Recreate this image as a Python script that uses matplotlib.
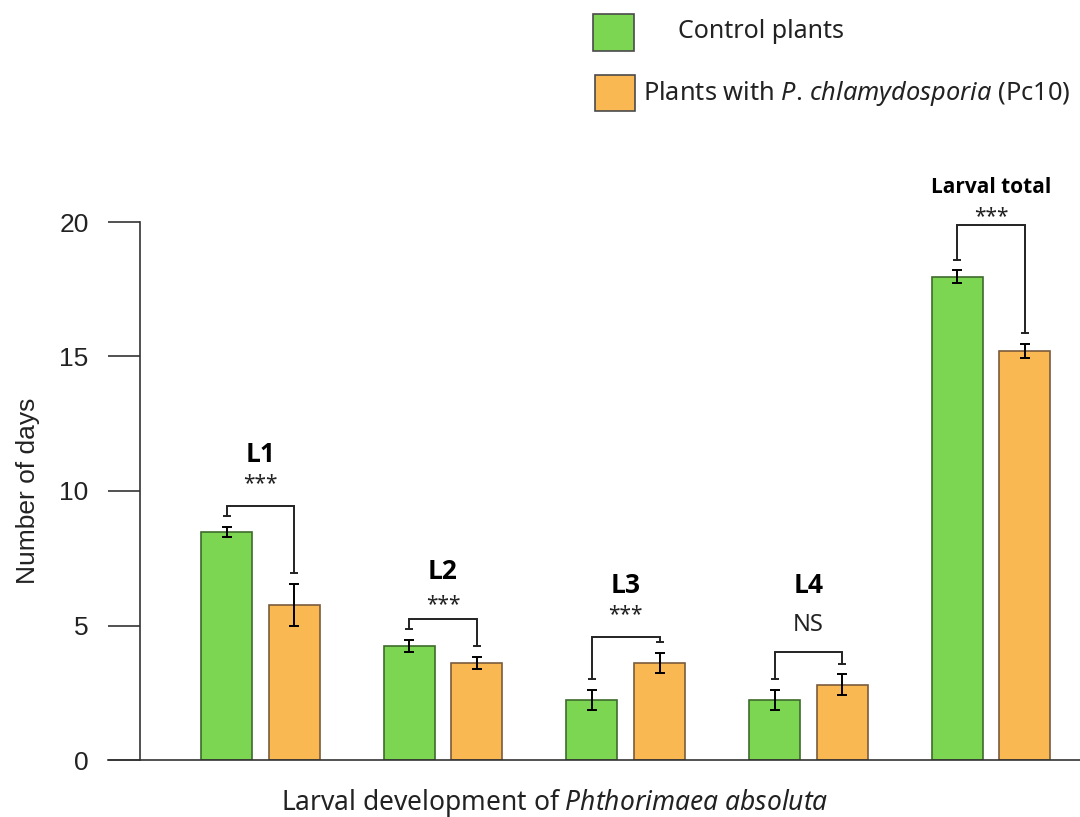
import numpy as np
import matplotlib.pyplot as plt
from matplotlib.patches import Rectangle

plt.rcParams['font.family'] = ['Noto Sans', 'DejaVu Sans']
plt.rcParams['mathtext.fontset'] = 'custom'
plt.rcParams['mathtext.rm'] = 'Noto Sans'
plt.rcParams['mathtext.it'] = 'Noto Sans:italic'

# larval stages and mean duration (days)
stages = ['L1', 'L2', 'L3', 'L4', 'Larval total']
control = [8.48, 4.24, 2.23, 2.23, 17.96]
control_err = [0.20, 0.22, 0.37, 0.37, 0.24]
treated = [5.76, 3.61, 3.61, 2.79, 15.20]
treated_err = [0.78, 0.22, 0.37, 0.39, 0.26]
signif = ['***', '***', '***', 'NS', '***']

# heights of brackets and labels above each pair
bracket_y = [9.44, 5.24, 4.57, 4.01, 19.89]
stage_label_y = [11.34, 6.99, 6.50, 6.50, 21.30]
signif_y = [10.26, 5.76, 5.39, 5.02, 20.19]

green = '#7dd652'
orange = '#f9b851'
dark = '#222222'
bold_font = ['Open Sans', 'DejaVu Sans']

fig = plt.figure(figsize=(10.8, 8.17), dpi=100)
ax = fig.add_axes([140 / 1080, 57 / 817, 940 / 1080, 538 / 817])

x = np.arange(len(stages))
off = 0.185
w = 0.28
ax.bar(x - off, control, w, color=green, edgecolor='#3d6b2c', linewidth=1.2, zorder=2)
ax.bar(x + off, treated, w, color=orange, edgecolor='#7a5b3c', linewidth=1.2, zorder=2)
ax.errorbar(x - off, control, yerr=control_err, fmt='none', ecolor='black',
            elinewidth=1.4, capsize=3.5, capthick=1.4, zorder=3)
ax.errorbar(x + off, treated, yerr=treated_err, fmt='none', ecolor='black',
            elinewidth=1.4, capsize=3.5, capthick=1.4, zorder=3)

# comparison brackets
gap = 0.4
for i in range(len(stages)):
    xl, xr = x[i] - off, x[i] + off
    yl = control[i] + control_err[i] + gap
    yr = treated[i] + treated_err[i] + gap
    top = bracket_y[i]
    ax.plot([xl, xl, xr, xr], [yl, top, top, yr], color=dark, lw=1.4,
            solid_joinstyle='miter', zorder=3)
    ax.plot([xl, xr], [yl, yr], ls='none', marker='_', ms=6, mew=1.4,
            color=dark, zorder=3)
    fs = 15 if i == 4 else 19
    ax.text(x[i], stage_label_y[i], stages[i], ha='center', va='center',
            fontsize=fs, fontweight='bold', family=bold_font, color='black')
    ax.text(x[i], signif_y[i], signif[i], ha='center', va='center',
            fontsize=17 if signif[i] == 'NS' else 15, color=dark)

ax.set_xlim(-0.659, 4.487)
ax.set_ylim(0, 20)
ax.set_xticks([])
ax.set_yticks([0, 5, 10, 15, 20])
ax.tick_params(axis='y', length=23, width=1.2, color='#333333', pad=14,
               labelsize=19, labelcolor='#222222')
for lab in ax.get_yticklabels():
    lab.set_family(['Liberation Sans', 'DejaVu Sans'])
for s in ['top', 'right']:
    ax.spines[s].set_visible(False)
for s in ['left', 'bottom']:
    ax.spines[s].set_linewidth(1.2)
    ax.spines[s].set_color('#333333')

# baseline continues under the 0 label
ax.plot([-0.659 - 32 / 182.6, -0.659], [0, 0], color='#333333', lw=1.2,
        clip_on=False, zorder=1)

ax.set_ylabel('Number of days', fontsize=19, family=['Liberation Sans', 'DejaVu Sans'],
              labelpad=14, color='#222222')

H = 817
fig.text(555 / 1080, 1 - 803 / H, r'Larval development of $Phthorimaea$ $absoluta$',
         fontsize=19, ha='center', va='center', color='#222222')

# legend
fig.add_artist(Rectangle((593 / 1080, 1 - 51 / H), 41 / 1080, 37 / H,
                         transform=fig.transFigure, facecolor=green,
                         edgecolor='#4a4a4a', lw=1.2))
fig.add_artist(Rectangle((595 / 1080, 1 - 111 / H), 40 / 1080, 36 / H,
                         transform=fig.transFigure, facecolor=orange,
                         edgecolor='#4a4a4a', lw=1.2))
fig.text(678 / 1080, 1 - 32 / H, 'Control plants', fontsize=18, va='center',
         color='#222222')
fig.text(643 / 1080, 1 - 93 / H, r'Plants with $P.\!$ $chlamydosporia$ (Pc10)',
         fontsize=18.3, va='center', color='#222222')

fig.savefig('out.png', dpi=100)
